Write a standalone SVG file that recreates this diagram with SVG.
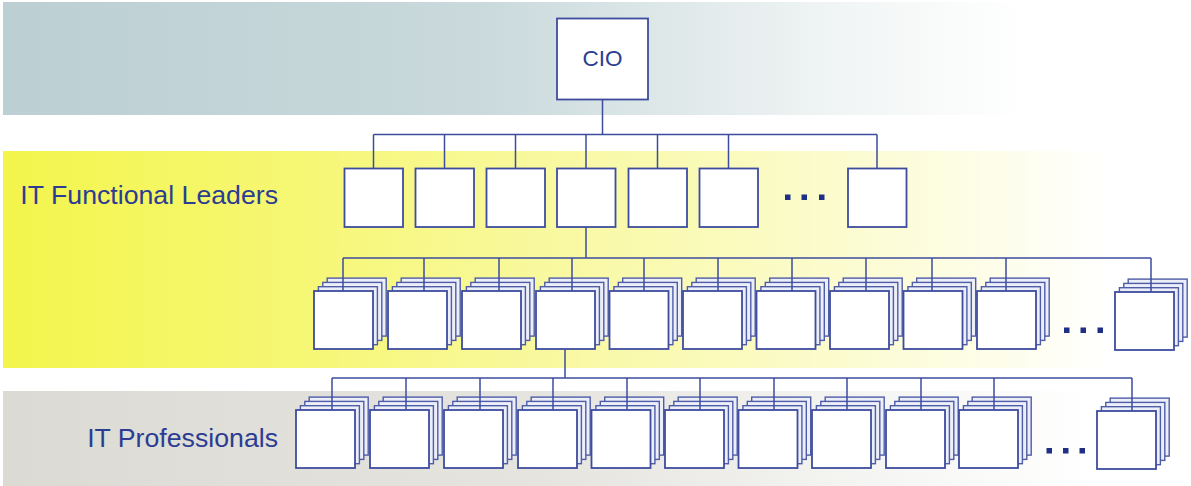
<svg xmlns="http://www.w3.org/2000/svg" xmlns:xlink="http://www.w3.org/1999/xlink" width="1191" height="486" viewBox="0 0 1191 486">
<style>
.bx{fill:#ffffff;stroke:#3e4c9e;stroke-width:1.8}
.bk{fill:#eceef8;stroke:#4f5ca8;stroke-width:1.4}
.ln{fill:none;stroke:#3e4c9e;stroke-width:1.5}
.lbl{font-family:"Liberation Sans",Arial,sans-serif;fill:#2c3c92}
.dot{fill:#1f2f86}
</style>
<defs>
<linearGradient id="gTop" x1="0" y1="0" x2="1" y2="0">
<stop offset="0" stop-color="#bccfd3"/>
<stop offset="0.4" stop-color="#c9d9dc"/>
<stop offset="0.55" stop-color="#dde7e8"/>
<stop offset="0.72" stop-color="#f3f6f6"/>
<stop offset="0.86" stop-color="#ffffff"/>
</linearGradient>
<linearGradient id="gYel" x1="0" y1="0" x2="1" y2="0">
<stop offset="0" stop-color="#f3f54c"/>
<stop offset="0.25" stop-color="#f6f774"/>
<stop offset="0.5" stop-color="#f9f9a8"/>
<stop offset="0.75" stop-color="#fcfcd8"/>
<stop offset="0.93" stop-color="#ffffff"/>
</linearGradient>
<linearGradient id="gGry" x1="0" y1="0" x2="1" y2="0">
<stop offset="0" stop-color="#dbdad3"/>
<stop offset="0.45" stop-color="#e5e4df"/>
<stop offset="0.75" stop-color="#f6f6f4"/>
<stop offset="0.92" stop-color="#ffffff"/>
</linearGradient>
<g id="stk">
<rect class="bk" x="13.2" y="-12.9" width="59" height="58"/>
<rect class="bk" x="8.8" y="-8.6" width="59" height="58"/>
<rect class="bk" x="4.4" y="-4.3" width="59" height="58"/>
<rect class="bx" x="0" y="0" width="59" height="58"/>
</g>
</defs>
<rect width="1191" height="486" fill="#ffffff"/>
<g id="bands">
<rect x="3" y="2" width="1188" height="113" fill="url(#gTop)"/>
<rect x="3" y="151" width="1188" height="217" fill="url(#gYel)"/>
<rect x="3" y="391" width="1188" height="95" fill="url(#gGry)"/>
</g>
<g id="labels">
<text class="lbl" x="278" y="204" font-size="26.7" text-anchor="end">IT Functional Leaders</text>
<text class="lbl" x="278" y="447" font-size="26.7" text-anchor="end">IT Professionals</text>
</g>
<g id="cio">
<rect class="bx" x="557" y="18.5" width="91" height="81"/>
<text class="lbl" x="602.5" y="66" font-size="22.5" text-anchor="middle">CIO</text>
</g>
<g id="leaders">
<g id="l1-1"><rect class="bx" x="344.5" y="168.5" width="58.5" height="58.5"/></g>
<g id="l1-2"><rect class="bx" x="415.5" y="168.5" width="58.5" height="58.5"/></g>
<g id="l1-3"><rect class="bx" x="486.5" y="168.5" width="58.5" height="58.5"/></g>
<g id="l1-4"><rect class="bx" x="557" y="168.5" width="58.5" height="58.5"/></g>
<g id="l1-5"><rect class="bx" x="628.5" y="168.5" width="58.5" height="58.5"/></g>
<g id="l1-6"><rect class="bx" x="699.5" y="168.5" width="58.5" height="58.5"/></g>
<g id="l1-dots"><rect class="dot" x="785" y="194.5" width="5.5" height="5.5"/><rect class="dot" x="801.5" y="194.5" width="5.5" height="5.5"/><rect class="dot" x="819" y="194.5" width="5.5" height="5.5"/></g>
<g id="l1-7"><rect class="bx" x="848" y="168.5" width="58.5" height="58.5"/></g>
</g>
<g id="level2">
<g id="l2-1"><use xlink:href="#stk" x="314" y="291"/></g>
<g id="l2-2"><use xlink:href="#stk" x="388" y="291"/></g>
<g id="l2-3"><use xlink:href="#stk" x="462" y="291"/></g>
<g id="l2-4"><use xlink:href="#stk" x="536" y="291"/></g>
<g id="l2-5"><use xlink:href="#stk" x="609.5" y="291"/></g>
<g id="l2-6"><use xlink:href="#stk" x="683" y="291"/></g>
<g id="l2-7"><use xlink:href="#stk" x="756.5" y="291"/></g>
<g id="l2-8"><use xlink:href="#stk" x="830" y="291"/></g>
<g id="l2-9"><use xlink:href="#stk" x="903.5" y="291"/></g>
<g id="l2-10"><use xlink:href="#stk" x="977" y="291"/></g>
<g id="l2-dots"><rect class="dot" x="1064" y="327.5" width="5.5" height="5.5"/><rect class="dot" x="1080.5" y="327.5" width="5.5" height="5.5"/><rect class="dot" x="1097.5" y="327.5" width="5.5" height="5.5"/></g>
<g id="l2-11"><use xlink:href="#stk" x="1115" y="292"/></g>
</g>
<g id="level3">
<g id="l3-1"><use xlink:href="#stk" x="296" y="410"/></g>
<g id="l3-2"><use xlink:href="#stk" x="370" y="410"/></g>
<g id="l3-3"><use xlink:href="#stk" x="444" y="410"/></g>
<g id="l3-4"><use xlink:href="#stk" x="518" y="410"/></g>
<g id="l3-5"><use xlink:href="#stk" x="591.5" y="410"/></g>
<g id="l3-6"><use xlink:href="#stk" x="665" y="410"/></g>
<g id="l3-7"><use xlink:href="#stk" x="738.5" y="410"/></g>
<g id="l3-8"><use xlink:href="#stk" x="812" y="410"/></g>
<g id="l3-9"><use xlink:href="#stk" x="886" y="410"/></g>
<g id="l3-10"><use xlink:href="#stk" x="959" y="410"/></g>
<g id="l3-dots"><rect class="dot" x="1046.5" y="448" width="5.5" height="5.5"/><rect class="dot" x="1063" y="448" width="5.5" height="5.5"/><rect class="dot" x="1079.5" y="448" width="5.5" height="5.5"/></g>
<g id="l3-11"><use xlink:href="#stk" x="1097" y="411"/></g>
</g>
<g id="connectors">
<path class="ln" d="M602.5 99.5V134.5M373.5 134.5H877M373.5 134.5V168.5M444.5 134.5V168.5M515.5 134.5V168.5M586 134.5V168.5M657.5 134.5V168.5M728.5 134.5V168.5M877 134.5V168.5"/>
<path class="ln" d="M586 227V258M343 258H1151M343 258V291M424 258V291M499 258V291M572 258V291M644 258V291M718 258V291M792 258V291M866 258V291M932 258V291M1006 258V291M1151 258V292"/>
<path class="ln" d="M565 349V378M332 378H1132M332 378V410M406 378V410M480 378V410M553 378V410M627 378V410M700 378V410M774 378V410M847 378V410M921 378V410M994 378V410M1132 378V411"/>
</g>
</svg>
